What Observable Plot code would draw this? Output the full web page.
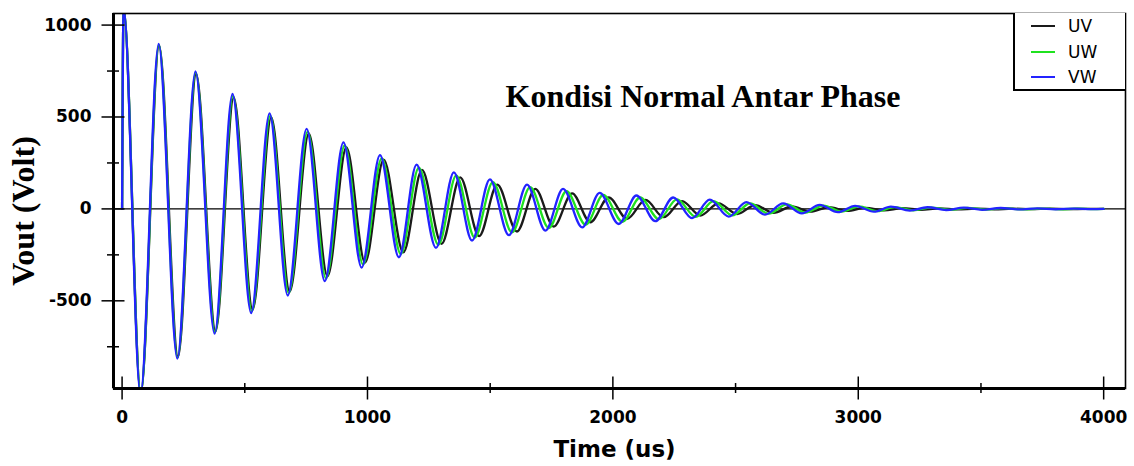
<!DOCTYPE html>
<html>
<head>
<meta charset="utf-8">
<script src="https://cdn.jsdelivr.net/npm/d3@7"></script>
<script src="https://cdn.jsdelivr.net/npm/@observablehq/plot@0.6"></script>
<style>
  body { margin: 0; background: #fff; }
  #wrap { position: relative; width: 1134px; height: 466px; overflow: hidden; }
  #legend { position: absolute; left: 1013px; top: 13px; width: 110px; height: 76px;
            border-left: 2px solid #000; border-bottom: 2px solid #000; background: #fff;
            font-family: "DejaVu Sans", sans-serif; font-size: 17px; color: #000; }
  .row { position: absolute; left: 0; height: 20px; width: 110px; }
  .row .sw { position: absolute; left: 16px; top: 9px; width: 24px; height: 2px; }
  .row .lb { position: absolute; left: 53px; top: 0px; line-height: 20px; }
</style>
</head>
<body>
<div id="wrap"></div>
<script>
// ---- data (extrema of each trace, time in us, voltage in V)
const seriesNames = ["UV", "UW", "VW"];
const seriesColors = ["#1a1a1a", "#1fe21f", "#2323ff"];

const tUV = [0, 6, 76, 151, 228, 302, 381, 455, 532, 608, 683, 761, 837, 914, 990, 1066, 1146, 1222, 1302, 1378, 1455, 1529, 1609, 1684, 1759, 1834, 1908, 1983, 2058, 2133, 2207, 2282, 2356, 2431, 2506, 2580, 2655, 2730, 2805, 2880, 2955, 3030, 3105, 3180, 3255, 3330, 3405, 3480, 3555, 3630, 3705, 3780, 3855, 3930, 4000];
const vUV = [0, 1095, -1005, 890, -805, 735, -665, 607, -548, 498, -450, 410, -366, 334, -292, 268, -236, 212, -190, 172, -148, 132, -123, 109, -96, 85, -73, 63, -54, 49, -45, 42, -36, 30, -28, 20, -21, 13, -15, 9, -11, 6, -8, 4, -5, 3, -3, 2, -2, 1, -1, 1, -1, 0, 0];

const tUW = [0, 6, 76, 150, 226, 300, 379, 452, 529, 604, 679, 756, 831, 907, 982, 1058, 1136, 1209, 1289, 1362, 1437, 1511, 1589, 1663, 1739, 1811, 1889, 1961, 2039, 2111, 2188, 2261, 2338, 2410, 2487, 2559, 2635, 2709, 2785, 2858, 2932, 3002, 3079, 3148, 3225, 3297, 3373, 3445, 3520, 3595, 3670, 3745, 3820, 3895, 3960, 4000];
const vUW = [0, 1095, -1005, 893, -810, 742, -672, 615, -556, 507, -458, 420, -378, 345, -302, 275, -246, 224, -195, 182, -156, 146, -128, 118, -104, 96, -86, 76, -70, 62, -56, 52, -43, 42, -35, 30, -26, 25, -20, 18, -15, 14, -12, 10, -8, 7, -5, 6, -4, 4, -3, 2, -2, 1, -1, 0];

const tVW = [0, 6, 75, 149, 225, 299, 377, 450, 526, 601, 675, 752, 826, 902, 976, 1051, 1128, 1200, 1279, 1352, 1426, 1499, 1576, 1650, 1725, 1797, 1875, 1946, 2024, 2096, 2173, 2246, 2323, 2395, 2472, 2544, 2620, 2694, 2770, 2843, 2917, 2987, 3064, 3133, 3210, 3282, 3358, 3430, 3505, 3580, 3655, 3730, 3805, 3880, 3950, 4000];
const vVW = [0, 1095, -1010, 897, -815, 748, -679, 625, -567, 520, -471, 435, -393, 362, -319, 293, -263, 241, -212, 199, -172, 161, -143, 132, -118, 109, -100, 87, -82, 73, -67, 62, -50, 50, -42, 37, -31, 30, -24, 22, -18, 17, -15, 12, -9, 9, -6, 7, -5, 5, -3, 3, -2, 2, -1, 0];

const xTicksMajor = [0, 1000, 2000, 3000, 4000];
const xTicksMinor = [500, 1500, 2500, 3500];
const yTicksMajor = [-500, 0, 500, 1000];
const yTicksMinor = [-750, -250, 250, 750];
const xDomain = [-35, 4089];
const yDomain = [-977, 1063];

const titleText = "Kondisi Normal Antar Phase";
const xLabel = "Time (us)";
const yLabel = "Vout (Volt)";

// ---- build tables
const toRows = (t, v) => t.map((d, i) => ({t: d, v: v[i]}));
const rowsUV = toRows(tUV, vUV);
const rowsUW = toRows(tUW, vUW);
const rowsVW = toRows(tVW, vVW);

const tickFont = {fontFamily: "DejaVu Sans", fontWeight: "bold", fontSize: 17};
const blank = () => "";
const plain = (d) => String(d);

const chart = Plot.plot({
  width: 1134,
  height: 466,
  marginLeft: 113,
  marginRight: 9,
  marginTop: 13,
  marginBottom: 78,
  x: {domain: xDomain, label: null},
  y: {domain: yDomain, label: null},
  style: {background: "#fff", color: "#000", fontFamily: "DejaVu Sans", fontSize: "17px", fontWeight: "bold", overflow: "visible"},
  marks: [
    Plot.ruleY([0], {stroke: "#000", strokeWidth: 1.2}),
    Plot.line(rowsUV, {x: "t", y: "v", stroke: seriesColors[0], strokeWidth: 2.3, curve: "monotone-x", clip: true}),
    Plot.line(rowsUW, {x: "t", y: "v", stroke: seriesColors[1], strokeWidth: 2.3, curve: "monotone-x", clip: true}),
    Plot.line(rowsVW, {x: "t", y: "v", stroke: seriesColors[2], strokeWidth: 2.3, curve: "monotone-x", clip: true}),
    Plot.frame({stroke: "#000", strokeWidth: 1.6}),
    Plot.ruleX([xDomain[0]], {stroke: "#000", strokeWidth: 3}),
    Plot.ruleY([yDomain[0]], {stroke: "#000", strokeWidth: 3}),
    // crossing tick marks
    Plot.axisX(xTicksMajor, {tickSize: 23, dy: -11.5, tickFormat: blank, label: null, strokeWidth: 1.5}),
    Plot.axisX(xTicksMinor, {tickSize: 10, dy: -5, tickFormat: blank, label: null, strokeWidth: 1.5}),
    Plot.axisY(yTicksMajor, {tickSize: 23, dx: 11.5, tickFormat: blank, label: null, strokeWidth: 1.5}),
    Plot.axisY(yTicksMinor, {tickSize: 12, dx: 6, tickFormat: blank, label: null, strokeWidth: 1.5}),
    // tick labels
    Plot.axisX(xTicksMajor, {tickSize: 0, tickPadding: 22, label: null, tickFormat: plain, ...tickFont}),
    Plot.axisY(yTicksMajor, {tickSize: 0, tickPadding: 22, label: null, tickFormat: plain, ...tickFont}),
    // axis titles and chart title
    Plot.text([xLabel], {frameAnchor: "bottom", textAnchor: "middle", dx: -5, dy: 68, fontFamily: "DejaVu Sans", fontWeight: "bold", fontSize: 23, fill: "#000"}),
    Plot.text([yLabel], {frameAnchor: "left", textAnchor: "middle", lineAnchor: "middle", dx: -90, dy: 10, rotate: -90, fontFamily: "Liberation Serif", fontWeight: "bold", fontSize: 32, fill: "#000"}),
    Plot.text([titleText], {frameAnchor: "top-left", textAnchor: "start", dx: 392, dy: 71, fontFamily: "Liberation Serif", fontWeight: "bold", fontSize: 32, fill: "#000"})
  ]
});

const wrap = document.getElementById("wrap");
wrap.appendChild(chart);

// legend overlay (inside the plot's top-right corner, as in the reference)
const legend = document.createElement("div");
legend.id = "legend";
const rowTops = [3, 29, 54];
seriesNames.forEach((name, i) => {
  const row = document.createElement("div");
  row.className = "row";
  row.style.top = rowTops[i] + "px";
  const sw = document.createElement("span");
  sw.className = "sw";
  sw.style.background = seriesColors[i];
  const lb = document.createElement("span");
  lb.className = "lb";
  lb.textContent = name;
  row.appendChild(sw);
  row.appendChild(lb);
  legend.appendChild(row);
});
wrap.appendChild(legend);
</script>
</body>
</html>
